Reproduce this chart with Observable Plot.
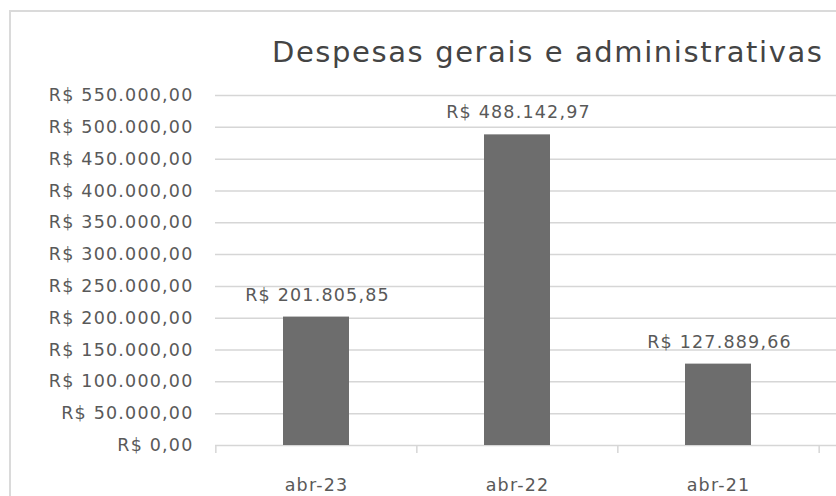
<!DOCTYPE html>
<html>
<head>
<meta charset="utf-8">
<script src="https://cdn.jsdelivr.net/npm/d3@7"></script>
<script src="https://cdn.jsdelivr.net/npm/@observablehq/plot@0.6"></script>
<style>
  html, body { margin: 0; padding: 0; background: #fff; overflow: hidden; }
  #wrap { position: relative; width: 836px; height: 496px; }
  #border { position: absolute; left: 9px; top: 10px; width: 900px; height: 600px;
            border-left: 2px solid #dadada; border-top: 2px solid #dadada; }
  #title { position: absolute; left: 272px; top: 38px; font-family: "DejaVu Sans", sans-serif;
           font-size: 29px; line-height: 29px; letter-spacing: 1.6px; color: #444; white-space: nowrap; }
  #chart { position: absolute; left: 0; top: 0; }
</style>
</head>
<body>
<div id="wrap">
  <div id="border"></div>
  <div id="chart"></div>
  <div id="title">Despesas gerais e administrativas</div>
</div>
<script>
const categories = ["abr-23", "abr-22", "abr-21"];
const values = [201805.85, 488142.97, 127889.66];
const yTicks = [0, 50000, 100000, 150000, 200000, 250000, 300000, 350000, 400000, 450000, 500000, 550000];

const data = categories.map((c, i) => ({cat: c, value: values[i]}));

const brl = d3.formatLocale({decimal: ",", thousands: ".", grouping: [3], currency: ["R$ ", ""]});
const fmt = brl.format("$,.2f");

const W = 836, H = 496;
const mL = 215, mR = 17, mT = 95, mB = 51;
const step = (W - mL - mR) / categories.length;
const gridColor = "#d6d6d6";
const textColor = "#595959";

const chart = Plot.plot({
  width: W,
  height: H,
  marginLeft: mL,
  marginRight: mR,
  marginTop: mT,
  marginBottom: mB,
  style: {fontFamily: "'DejaVu Sans', sans-serif", fontSize: "17.5px", letterSpacing: "1.2px", color: textColor, background: "transparent"},
  x: {domain: categories, paddingInner: 0.67, paddingOuter: 0.335, label: null},
  y: {domain: [0, 550000], label: null},
  marks: [
    Plot.ruleY(yTicks.filter(d => d > 0), {stroke: gridColor, strokeWidth: 1.5, insetRight: -mR}),
    Plot.ruleY([0], {stroke: gridColor, strokeWidth: 1.5, insetRight: -mR}),
    Plot.ruleX(categories, {x: d => d, dx: -step / 2, stroke: gridColor, strokeWidth: 1.5, insetTop: H - mT - mB, insetBottom: -8}),
    Plot.ruleX(categories.slice(-1), {x: d => d, dx: step / 2, stroke: gridColor, strokeWidth: 1.5, insetTop: H - mT - mB, insetBottom: -8}),
    Plot.barY(data, {x: "cat", y: "value", fill: "#6d6d6d"}),
    Plot.text(data, {x: "cat", y: "value", text: d => fmt(d.value), dy: -22, dx: 1, fill: textColor, lineAnchor: "middle"}),
    Plot.axisY({ticks: yTicks, tickFormat: fmt, tickSize: 0, tickPadding: 22, label: null, fill: textColor}),
    Plot.axisX({tickSize: 0, tickPadding: 33, label: null, fill: textColor})
  ]
});
document.getElementById("chart").appendChild(chart);
</script>
</body>
</html>
